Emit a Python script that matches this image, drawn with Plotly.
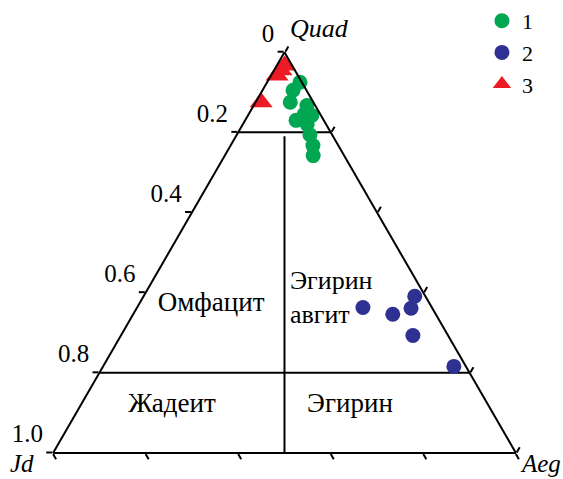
import plotly.graph_objects as go

# ---- data (fractions: Quad, Jd, Aeg) ----
g_quad = [0.925, 0.905, 0.875, 0.867, 0.845, 0.842, 0.830, 0.820, 0.794, 0.767, 0.742]
g_jd   = [0.004, 0.029, 0.050, 0.018, 0.035, 0.020, 0.060, 0.041, 0.048, 0.055, 0.067]
g_aeg  = [0.071, 0.066, 0.075, 0.115, 0.120, 0.138, 0.110, 0.139, 0.158, 0.178, 0.191]

b_quad = [0.363, 0.346, 0.361, 0.391, 0.293, 0.216]
b_jd   = [0.149, 0.093, 0.046, 0.023, 0.076, 0.026]
b_aeg  = [0.488, 0.561, 0.593, 0.586, 0.631, 0.758]

r_quad = [0.967, 0.955, 0.942, 0.875]
r_jd   = [0.016, 0.030, 0.045, 0.113]
r_aeg  = [0.017, 0.015, 0.013, 0.012]

series_names = ["1", "2", "3"]

# classification field boundaries (Quad, Jd, Aeg)
bound_upper = ([0.8, 0.8], [0.2, 0.0], [0.0, 0.2])
bound_lower = ([0.2, 0.2], [0.8, 0.0], [0.0, 0.8])
bound_mid   = ([0.79, 0.0], [0.105, 0.5], [0.105, 0.5])

quad_tickvals = [1.0, 0.8, 0.6, 0.4, 0.2, 0.0]
quad_ticktext = ["0", "0.2", "0.4", "0.6", "0.8", "1.0"]
edge_tickvals = [0.0, 0.2, 0.4, 0.6, 0.8, 1.0]

field_names = ["Омфацит", "Эгирин<br>авгит", "Жадеит", "Эгирин"]
field_quad = [0.371, 0.3835, 0.120, 0.120]
field_jd   = [0.473, 0.2965, 0.683, 0.2985]
field_aeg  = [0.156, 0.320, 0.197, 0.5815]

FONT = "Liberation Serif"
GREEN = "#00a651"
BLUE = "#2e3192"
RED = "#ed1c24"

fig = go.Figure()

for (qa, jb, ac) in [bound_upper, bound_lower, bound_mid]:
    fig.add_trace(go.Scatterternary(a=qa, b=jb, c=ac, mode="lines",
                                    line=dict(color="black", width=2),
                                    showlegend=False, hoverinfo="skip"))

fig.add_trace(go.Scatterternary(
    a=field_quad[:1] + field_quad[2:], b=field_jd[:1] + field_jd[2:], c=field_aeg[:1] + field_aeg[2:],
    mode="text", text=field_names[:1] + field_names[2:], textposition="middle center",
    textfont=dict(family=FONT, size=27, color="black"), showlegend=False, hoverinfo="skip"))
fig.add_trace(go.Scatterternary(
    a=field_quad[1:2], b=field_jd[1:2], c=field_aeg[1:2],
    mode="text", text=field_names[1:2], textposition="middle right",
    textfont=dict(family=FONT, size=26, color="black"), showlegend=False, hoverinfo="skip"))

fig.add_trace(go.Scatterternary(a=g_quad, b=g_jd, c=g_aeg, mode="markers", name=series_names[0],
                                marker=dict(symbol="circle", size=15, color=GREEN), cliponaxis=False))
fig.add_trace(go.Scatterternary(a=b_quad, b=b_jd, c=b_aeg, mode="markers", name=series_names[1],
                                marker=dict(symbol="circle", size=15, color=BLUE), cliponaxis=False))
fig.add_trace(go.Scatterternary(a=r_quad, b=r_jd, c=r_aeg, mode="markers", name=series_names[2],
                                marker=dict(symbol="triangle-up", size=20, color=RED), cliponaxis=False))

axis_common = dict(showgrid=False, linecolor="black", linewidth=2,
                   ticks="outside", ticklen=6, tickwidth=1.5, tickcolor="black",
                   title=dict(text=""))

fig.update_layout(
    width=563, height=479,
    margin=dict(l=0, r=0, t=0, b=0),
    paper_bgcolor="white",
    font=dict(family=FONT, size=25, color="black"),
    ternary=dict(
        domain=dict(x=[0.0941, 0.9165], y=[0.0543, 0.8910]),
        bgcolor="white",
        sum=1,
        aaxis=dict(**axis_common, tickmode="array", tickvals=quad_tickvals,
                   ticktext=[t + "<br>&nbsp;" for t in quad_ticktext],
                   showticklabels=True, tickfont=dict(family=FONT, size=25)),
        baxis=dict(**axis_common, tickmode="array", tickvals=edge_tickvals, showticklabels=False),
        caxis=dict(**axis_common, tickmode="array", tickvals=edge_tickvals, showticklabels=False),
    ),
    legend=dict(x=0.856, y=1.0, xanchor="left", yanchor="top",
                font=dict(family=FONT, size=22), bgcolor="rgba(0,0,0,0)",
                tracegroupgap=0),
    annotations=[
        dict(text="<i>Quad</i>", x=319 / 563, y=1 - 29 / 479, xref="paper", yref="paper",
             xanchor="center", yanchor="middle",
             showarrow=False, font=dict(family=FONT, size=26)),
        dict(text="<i>Jd</i>", x=22 / 563, y=1 - 463 / 479, xref="paper", yref="paper",
             xanchor="center", yanchor="middle",
             showarrow=False, font=dict(family=FONT, size=25)),
        dict(text="<i>Aeg</i>", x=540 / 563, y=1 - 463 / 479, xref="paper", yref="paper",
             xanchor="center", yanchor="middle",
             showarrow=False, font=dict(family=FONT, size=25)),
    ],
)

fig.write_html("out.html", config={"displayModeBar": False},
               post_script="document.body.style.margin='0px';")
